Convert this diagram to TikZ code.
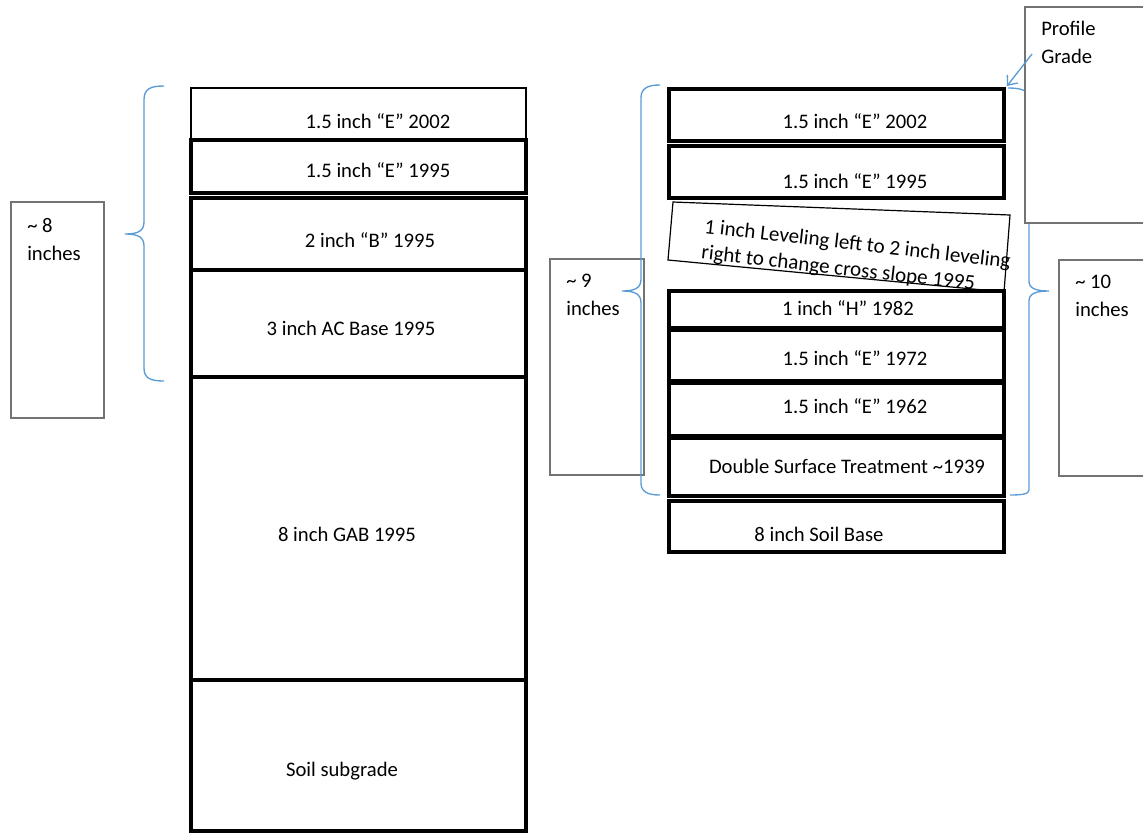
\documentclass[tikz,border=0pt]{standalone}
\usepackage{fontspec}
\setmainfont{Carlito}
\usetikzlibrary{arrows.meta, positioning}
\definecolor{bracecolor}{RGB}{91, 155, 213}
\definecolor{notecolor}{RGB}{115, 115, 115}

\begin{document}
\begin{tikzpicture}[
  x = 0.75pt,
  y = -0.75pt,
  font = \fontsize{15.5pt}{21pt}\selectfont,
  thinlayer/.style = {
    draw = black,
    line width = 0.9pt,
    fill = white
  },
  layer/.style = {
    draw = black,
    line width = 2.3pt,
    fill = white
  },
  notebox/.style = {
    draw = notecolor,
    line width = 1pt,
    fill = white
  },
  brace/.style = {
    draw = bracecolor,
    line width = 1pt
  },
  layertext/.style = {
    inner sep = 0pt,
    anchor = base
  },
  notetext/.style = {
    inner sep = 0pt,
    anchor = north west,
    align = left
  },
  arrow/.style = {
    -{Straight Barb[length = 6pt, width = 10pt]},
    draw = bracecolor,
    line width = 1pt
  }
]
\clip (0,0) rectangle (1143,833);

% Left section
\draw[notebox] (11,202) rectangle (104,418);
\node[notetext] (eight) at (27,218) {\textasciitilde{} 8\\inches};
\draw[brace] (164,86) .. controls (150,86) and (144,89) .. (144,100) -- (144,222)
  .. controls (144,231) and (138,234) .. (125,234)
  .. controls (138,234) and (144,237) .. (144,246) -- (144,368)
  .. controls (144,378) and (150,381) .. (164,381);

\draw[thinlayer] (191,88) rectangle (526,140);
\draw[layer] (191,140) rectangle (526,193);
\draw[layer] (191,198) rectangle (526,270);
\draw[layer] (191,270) rectangle (526,377);
\draw[layer] (191,377) rectangle (526,680);
\draw[layer] (191,680) rectangle (526,831);

\node[layertext] (left2002) at (378,128) {1.5 inch “E” 2002};
\node[layertext] (left1995e) at (378,177) {1.5 inch “E” 1995};
\node[layertext] (left1995b) at (370,247) {2 inch “B” 1995};
\node[layertext] (leftacbase) at (351,335) {3 inch AC Base 1995};
\node[layertext] (leftgab) at (347,541) {8 inch GAB 1995};
\node[layertext] (leftsoil) at (342,776) {Soil subgrade};

% Right section
\draw[notebox] (550,259) rectangle (644,475);
\node[notetext] (nine) at (566,274) {\textasciitilde{} 9\\inches};
\draw[brace] (660,85) .. controls (648,85) and (641,88) .. (641,98) -- (641,279)
  .. controls (641,288) and (635,291) .. (622,291)
  .. controls (635,291) and (641,294) .. (641,303) -- (641,483)
  .. controls (641,492) and (648,495) .. (660,495);
\draw[brace] (1008,88) .. controls (1020,88) and (1029,90) .. (1029,98) -- (1029,281)
  .. controls (1029,288) and (1035,291) .. (1049,291)
  .. controls (1035,291) and (1029,294) .. (1029,301) -- (1029,490)
  .. controls (1029,494) and (1022,495) .. (1010,495);

\draw[notebox] (1059,260) rectangle (1160,476);
\node[notetext] (ten) at (1075,275) {\textasciitilde{} 10\\inches};
\draw[notebox] (1025,7) rectangle (1160,223);
\node[notetext] (profile) at (1041,20.5) {Profile\\Grade};

\draw[layer] (669,89) rectangle (1004,141);
\draw[layer] (669,146) rectangle (1004,198);
\draw[thinlayer] (673,202) -- (1010,215) -- (1004,292) -- (668,260) -- cycle;
\node[inner sep = 0pt, align = left, rotate = -6.5,
  font = \fontsize{15.8pt}{19.5pt}\selectfont] (leveling) at (856,258)
  {1 inch Leveling left to 2 inch leveling\\right to change cross slope 1995};
\draw[layer] (669,291) rectangle (1004,328);
\draw[layer] (669,330) rectangle (1004,381);
\draw[layer] (669,383) rectangle (1004,436);
\draw[layer] (669,438) rectangle (1004,496);
\draw[layer] (669,501) rectangle (1004,552);

\node[layertext] (right2002) at (855,128) {1.5 inch “E” 2002};
\node[layertext] (right1995) at (855,188) {1.5 inch “E” 1995};
\node[layertext] (right1982) at (848,315) {1 inch “H” 1982};
\node[layertext] (right1972) at (855,365) {1.5 inch “E” 1972};
\node[layertext] (right1962) at (855,413) {1.5 inch “E” 1962};
\node[layertext] (right1939) at (847,473) {Double Surface Treatment \textasciitilde1939};
\node[layertext] (rightsoil) at (819,541) {8 inch Soil Base};

% Arrows
\coordinate (gradetail) at (1032,54);
\coordinate (gradetip) at (1007,86);
\draw[arrow] (gradetail) -- (gradetip);

\end{tikzpicture}
\end{document}
